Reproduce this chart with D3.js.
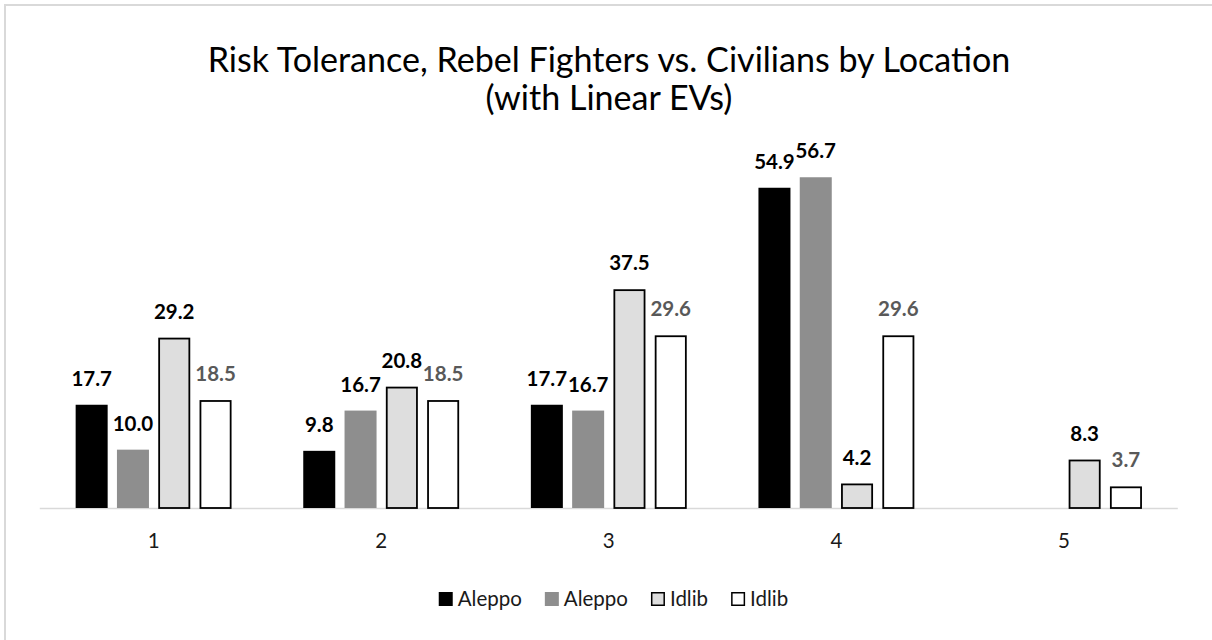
<!DOCTYPE html>
<html>
<head>
<meta charset="utf-8">
<script src="https://cdn.jsdelivr.net/npm/d3@7"></script>
<style>
  html, body { margin: 0; padding: 0; background: #fff; }
  svg { display: block; }
  text { font-family: Lato, "Open Sans", sans-serif; }
</style>
</head>
<body>
<svg id="chart" width="1212" height="640"></svg>
<script>
// ---- data ----
const categories = ["1", "2", "3", "4", "5"];
const seriesNames = ["Aleppo", "Aleppo", "Idlib", "Idlib"];
const aleppoFighters = [17.7, 9.8, 17.7, 54.9, null];
const aleppoCivilians = [10.0, 16.7, 16.7, 56.7, null];
const idlibFighters = [29.2, 20.8, 37.5, 4.2, 8.3];
const idlibCivilians = [18.5, 18.5, 29.6, 29.6, 3.7];
const titleLines = ["Risk Tolerance, Rebel Fighters vs. Civilians by Location", "(with Linear EVs)"];
const yMax = 60;

// ---- styles ----
const fills = ["#000000", "#8e8e8e", "#dedede", "#ffffff"];
const strokes = [null, null, "#000000", "#000000"];
const labelColors = ["#000000", "#000000", "#000000", "#595959"];

const seriesValues = [aleppoFighters, aleppoCivilians, idlibFighters, idlibCivilians];

const svg = d3.select("#chart");

// outer border
svg.append("rect")
  .attr("x", 5).attr("y", 5).attr("width", 1230).attr("height", 660)
  .attr("fill", "#fff").attr("stroke", "#d9d9d9").attr("stroke-width", 2);

const plotLeft = 39.8, plotRight = 1177.8, baseY = 508, topY = 158;

const x0 = d3.scaleBand().domain(categories).range([plotLeft, plotRight]);
const bw = x0.bandwidth();
const x1 = d3.scaleBand().domain(d3.range(4)).range([35.85, bw - 35.85]).paddingInner(0.225);
const y = d3.scaleLinear().domain([0, yMax]).range([baseY, topY]);

// axis line
svg.append("line")
  .attr("x1", plotLeft).attr("x2", plotRight)
  .attr("y1", baseY + 0.5).attr("y2", baseY + 0.5)
  .attr("stroke", "#d9d9d9").attr("stroke-width", 1.5);

// x axis labels
const xAxis = d3.axisBottom(x0).tickSize(0).tickPadding(0);
const gx = svg.append("g").attr("transform", `translate(0,${baseY})`).call(xAxis);
gx.select(".domain").remove();
gx.selectAll("text")
  .attr("y", 40).attr("dy", null)
  .attr("font-family", "Lato")
  .attr("font-size", 20.5).attr("fill", "#1a1a1a");

// bars
const rows = [];
seriesValues.forEach((vals, s) => {
  vals.forEach((v, i) => {
    if (v !== null) rows.push({ s, cat: categories[i], v });
  });
});

svg.append("g").selectAll("rect")
  .data(rows).join("rect")
  .attr("x", d => x0(d.cat) + x1(d.s) + (strokes[d.s] ? 0.9 : 0))
  .attr("width", d => x1.bandwidth() - (strokes[d.s] ? 1.8 : 0))
  .attr("y", d => y(d.v) + (strokes[d.s] ? 0.9 : 0))
  .attr("height", d => baseY - y(d.v) - (strokes[d.s] ? 0.9 : 0))
  .attr("fill", d => fills[d.s])
  .attr("stroke", d => strokes[d.s] || "none")
  .attr("stroke-width", 1.8);

// labels
svg.append("g").selectAll("text")
  .data(rows).join("text")
  .attr("x", d => x0(d.cat) + x1(d.s) + x1.bandwidth() / 2)
  .attr("y", d => y(d.v) - 19)
  .attr("text-anchor", "middle")
  .attr("font-family", "Lato")
  .attr("font-weight", "bold")
  .attr("font-size", 20.5)
  .attr("fill", d => labelColors[d.s])
  .text(d => d3.format(".1f")(d.v));

// title
const title = svg.append("g");
const tl1 = title.append("text").attr("x", 609).attr("y", 72)
  .attr("text-anchor", "middle").attr("font-size", 27).attr("fill", "#000")
  .text(titleLines[0]);
const w = tl1.node().getComputedTextLength();
const tSize = 27 * 803 / w;
tl1.attr("font-size", tSize);
title.append("text").attr("x", 609).attr("y", 110)
  .attr("text-anchor", "middle").attr("font-size", tSize).attr("fill", "#000")
  .text(titleLines[1]);

// legend
const legend = svg.append("g");
let lx = 0;
seriesNames.forEach((name, s) => {
  const g = legend.append("g");
  g.append("rect").attr("x", lx + (strokes[s] ? 0.75 : 0)).attr("y", 592 + (strokes[s] ? 0.75 : 0))
    .attr("width", 14 - (strokes[s] ? 1.5 : 0)).attr("height", 14 - (strokes[s] ? 1.5 : 0))
    .attr("fill", fills[s]).attr("stroke", strokes[s] || "none").attr("stroke-width", 1.5);
  const t = g.append("text").attr("x", lx + 19).attr("y", 606)
    .attr("font-size", 20.5).attr("fill", "#1a1a1a").text(name);
  lx += 19 + t.node().getComputedTextLength() + 23;
});
const totalW = lx - 23;
legend.attr("transform", `translate(${613.5 - totalW / 2},0)`);
</script>
</body>
</html>
